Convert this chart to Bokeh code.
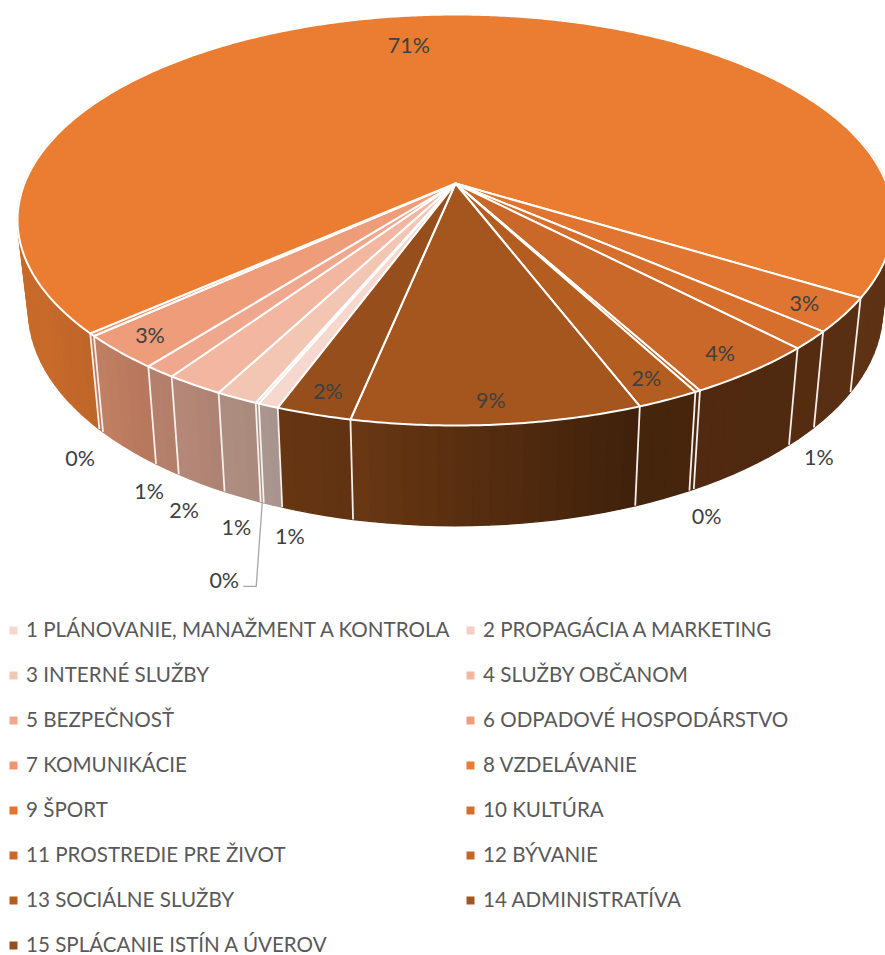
import numpy as np
from bokeh.plotting import figure
from bokeh.models import Range1d
from bokeh.core.properties import value
from bokeh.embed import file_html
from bokeh.resources import INLINE

# ---- data, in legend order ----
categories = ["1 PLÁNOVANIE, MANAŽMENT A KONTROLA", "2 PROPAGÁCIA A MARKETING", "3 INTERNÉ SLUŽBY",
              "4 SLUŽBY OBČANOM", "5 BEZPEČNOSŤ", "6 ODPADOVÉ HOSPODÁRSTVO", "7 KOMUNIKÁCIE",
              "8 VZDELÁVANIE", "9 ŠPORT", "10 KULTÚRA", "11 PROSTREDIE PRE ŽIVOT", "12 BÝVANIE",
              "13 SOCIÁLNE SLUŽBY", "14 ADMINISTRATÍVA", "15 SPLÁCANIE ISTÍN A ÚVEROV"]
shares = [0.65, 0.11, 1.34, 1.85, 1.01, 2.75, 0.22, 71.0, 2.70, 1.43, 4.26, 0.17, 1.99, 9.12, 2.38]
slice_colors = ["#F6D8CF", "#F6CFC2", "#F3C6B3", "#F3B6A1", "#EFA88D", "#EE9C7A", "#EE9570", "#EA7D32",
                "#DF7530", "#D66F2B", "#C96828", "#C26526", "#B35E20", "#A5561E", "#964F1C"]

# ---- label placement: (None = inside at radial fraction, else offset from lower rim) ----
inside_r = [None, None, None, None, None, 0.92, None, 0.80, 0.92, None, 0.92, None, 0.92, 0.92, 0.92]
label_dx = [17, -38, -6, -17, -18, 0, -21, -20, -5, 17, -5, 15, -2, -3, 1]
label_dy = [31, 78, 30, 27, 22, -1, 28, 0, -1, 21, -1, 26, -1, -1, -1]

# ---- projection ----
CX, CY, A, B, K = 455.0, 183.0, 431.0, 199.0, 0.1776
START = 110.1


def top(theta, r=1.0):
    t = np.radians(theta)
    ux, uy = r * np.cos(t), r * np.sin(t)
    d = 1 - K * uy
    return CX + A * ux / d, CY + B * uy / d


def low(theta):
    x, y = top(theta)
    return CX + 0.975 * (x - CX), 271.4 + 1.049 * (y - CY)


def shade(theta):
    t = ((theta + 60) % 360) - 60
    return np.interp(t, [-60, 30, 55, 70, 85, 100, 107, 112, 125, 135, 150, 240],
                     [.40, .40, .40, .39, .50, .63, .67, .69, .75, .80, .85, .85])


def mix(col, f):
    rgb = [int(col[i:i + 2], 16) for i in (1, 3, 5)]
    return "#%02X%02X%02X" % tuple(int(round(c * f)) for c in rgb)


vals = np.array(shares)
spans = vals / vals.sum() * 360
edges = START + np.concatenate([[0], np.cumsum(spans)])
mids = (edges[:-1] + edges[1:]) / 2

p = figure(width=885, height=955, output_backend="svg", toolbar_location=None,
           x_range=Range1d(0, 885), y_range=Range1d(955, 0), min_border=0)
p.xaxis.visible = False
p.yaxis.visible = False
p.grid.visible = False
p.outline_line_color = None
p.background_fill_color = "white"
p.border_fill_color = "white"

# ---- side wall: narrow strips shaded by angle ----
wx, wy, wc = [], [], []
for i in range(len(vals)):
    a0, a1 = edges[i], edges[i + 1]
    n = max(1, int(np.ceil((a1 - a0) / 2)))
    steps = np.linspace(a0, a1, n + 1)
    for s0, s1 in zip(steps[:-1], steps[1:]):
        m = ((s0 + s1) / 2) % 360
        if m > 195 and m < 345:
            continue
        tx0, ty0 = top(s0)
        tx1, ty1 = top(s1)
        bx0, by0 = low(s0)
        bx1, by1 = low(s1)
        wx.append([tx0, tx1, bx1, bx0])
        wy.append([ty0, ty1, by1, by0])
        wc.append(mix(slice_colors[i], shade(m)))
p.patches(wx, wy, fill_color=wc, line_color=wc, line_width=1.4)

# wall separators
sx0, sy0, sx1, sy1 = [], [], [], []
for e in edges[:-1]:
    m = e % 360
    if 5 < m < 175:
        a = top(e)
        b = low(e)
        sx0.append(a[0]); sy0.append(a[1]); sx1.append(b[0]); sy1.append(b[1])
p.segment(sx0, sy0, sx1, sy1, line_color="#F4F0EC", line_width=1.8)

# ---- top face ----
fx, fy = [], []
for i in range(len(vals)):
    steps = np.linspace(edges[i], edges[i + 1], max(2, int(spans[i] * 2) + 2))
    pts = [top(s) for s in steps]
    fx.append([CX] + [q[0] for q in pts])
    fy.append([CY] + [q[1] for q in pts])
p.patches(fx, fy, fill_color=slice_colors, line_color="white", line_width=2, line_join="round")

# ---- data labels ----
lx, ly, lt = [], [], []
for i in range(len(vals)):
    if inside_r[i] is not None:
        ax, ay = top(mids[i], inside_r[i])
    else:
        ax, ay = low(mids[i])
    lx.append(ax + label_dx[i])
    ly.append(ay + label_dy[i])
    lt.append(f"{int(round(shares[i]))}%")
p.text(lx, ly, text=lt, text_font=value("Lato"), text_font_size="21.5px", text_color="#404040",
       text_align="center", text_baseline="middle")

# leader line of the second slice
lead0 = low(mids[1])
p.line([lead0[0], lead0[0] - 6, lead0[0] - 19], [lead0[1], lead0[1] + 84, lead0[1] + 84],
       line_color="#A6A6A6", line_width=1.3)

# ---- legend ----
rows = [i // 2 for i in range(len(categories))]
cols = [i % 2 for i in range(len(categories))]
mx = [13 + 457 * c for c in cols]
tx = [25.5 + 457 * c for c in cols]
ty = [630 + 45 * r for r in rows]
p.scatter(mx, ty, marker="square", size=8, fill_color=slice_colors, line_color=None)
p.text(tx, [t - 2 for t in ty], text=categories, text_font=value("Lato"), text_font_size="20.6px",
       text_color="#595959", text_align="left", text_baseline="middle")

open("out.html", "w").write(file_html(p, INLINE))
